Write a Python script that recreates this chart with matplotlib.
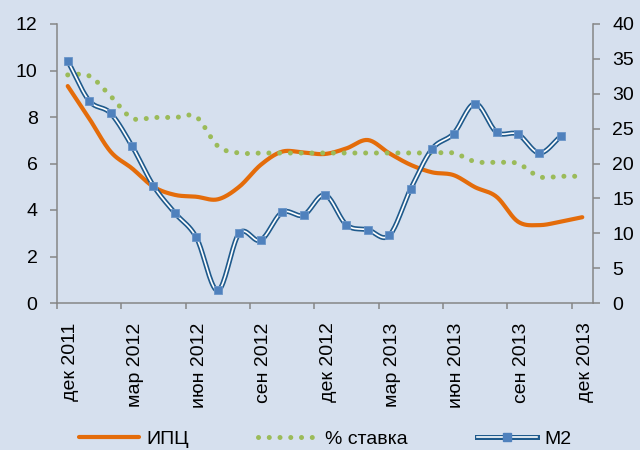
import numpy as np
import matplotlib
matplotlib.use("Agg")
import matplotlib.pyplot as plt
from matplotlib.lines import Line2D

plt.rcParams['font.family'] = ['Liberation Sans', 'DejaVu Sans']

# monthly values, dec 2011 .. dec 2013
tick_labels = ['дек 2011', 'мар 2012', 'июн 2012', 'сен 2012', 'дек 2012',
               'мар 2013', 'июн 2013', 'сен 2013', 'дек 2013']
cpi = [9.33, 7.94, 6.51, 5.79, 5.0, 4.65, 4.57, 4.46, 5.0, 5.94, 6.51, 6.47,
       6.41, 6.65, 7.01, 6.44, 5.94, 5.62, 5.5, 4.98, 4.57, 3.5, 3.35, 3.5, 3.69]
rate = [9.81, 9.77, 8.9, 7.95, 7.98, 7.98, 8.0, 6.75, 6.45, 6.45, 6.45, 6.45,
        6.45, 6.45, 6.45, 6.45, 6.45, 6.45, 6.45, 6.08, 6.05, 6.0, 5.43, 5.45, 5.45]
m2 = [34.7, 29.0, 27.2, 22.5, 16.8, 12.9, 9.4, 1.8, 10.0, 9.0, 13.0, 12.6,
      15.5, 11.2, 10.5, 9.7, 16.4, 22.1, 24.3, 28.6, 24.5, 24.2, 21.5, 23.9]

bg = '#D6E0EE'
grey = '#868686'
orange = '#E46C0A'
green = '#9BBB59'
navy = '#1F5A8C'
blue = '#4F81BD'
fs = 14


def smooth(x, y, n=20):
    # Catmull-Rom curve through the points, like Excel's smoothed line
    x = np.asarray(x, float)
    y = np.asarray(y, float)
    px = np.concatenate([[2 * x[0] - x[1]], x, [2 * x[-1] - x[-2]]])
    py = np.concatenate([[2 * y[0] - y[1]], y, [2 * y[-1] - y[-2]]])
    t = np.linspace(0, 1, n, endpoint=False)
    xs, ys = [], []
    for i in range(1, len(x)):
        for p, out in ((px, xs), (py, ys)):
            p0, p1, p2, p3 = p[i - 1], p[i], p[i + 1], p[i + 2]
            out.extend(0.5 * (2 * p1 + (-p0 + p2) * t
                              + (2 * p0 - 5 * p1 + 4 * p2 - p3) * t ** 2
                              + (-p0 + 3 * p1 - 3 * p2 + p3) * t ** 3))
    xs.append(x[-1])
    ys.append(y[-1])
    return np.array(xs), np.array(ys)


fig = plt.figure(figsize=(6.4, 4.5), dpi=100, facecolor=bg)
ax = fig.add_axes([57 / 640, 1 - 303 / 450, 536 / 640, 279 / 450])
ax.set_facecolor(bg)
ax2 = ax.twinx()

x_cpi = np.arange(len(cpi)) + 0.5
x_rate = np.arange(len(rate)) + 0.5
x_m2 = np.arange(len(m2)) + 0.5

sx, sy = smooth(x_cpi, cpi)
ax.plot(sx, sy, color=orange, lw=3, solid_capstyle='round')
sx, sy = smooth(x_rate, rate)
ax.plot(sx, sy, color=green, lw=3.6, linestyle=(0, (0.01, 2.14)),
        dash_capstyle='round')

sx, sy = smooth(x_m2, m2)
ax2.plot(sx, sy, color=navy, lw=3.6)
ax2.plot(sx, sy, color='white', lw=1.2)
ax2.plot(x_m2, m2, linestyle='none', marker='s', markersize=5.5,
         color=blue, markeredgecolor='#6A95C9', markeredgewidth=0.6)

ax.set_xlim(0, 25)
ax.set_ylim(0, 12)
ax2.set_ylim(0, 40)
ax.set_yticks(range(0, 13, 2))
ax2.set_yticks(range(0, 41, 5))
ax.set_xticks(np.arange(0, 25, 3) + 0.65, tick_labels, rotation=90,
              va='top', ha='center')
ax.set_xticks(np.arange(0, 25, 3), minor=True)

for a in (ax, ax2):
    a.spines['top'].set_visible(False)
    for s in a.spines.values():
        s.set_color(grey)
        s.set_linewidth(1.1)
ax.spines['right'].set_visible(False)
ax2.spines['left'].set_visible(False)
ax2.spines['bottom'].set_visible(False)

ax.tick_params(axis='y', direction='out', length=5, width=1.1, color=grey,
               labelsize=fs, pad=9)
ax2.tick_params(axis='y', direction='out', length=5, width=1.1, color=grey,
                labelsize=fs, pad=9)
ax.tick_params(axis='x', which='major', length=0, labelsize=fs, pad=14)
ax.tick_params(axis='x', which='minor', direction='out', length=4, width=1.1,
               color=grey)

h_cpi = Line2D([], [], color=orange, lw=3, solid_capstyle='round')
h_rate = Line2D([], [], color=green, lw=3.6, linestyle=(0, (0.01, 2.14)),
                dash_capstyle='round')
h_m2 = (Line2D([], [], color=navy, lw=3.6),
        Line2D([], [], color='white', lw=1.2),
        Line2D([], [], linestyle='none', marker='s', markersize=5.5, color=blue))
fig.legend([h_cpi, h_rate, h_m2], ['ИПЦ', '% ставка', 'M2'],
           loc='center', bbox_to_anchor=(0.508, 0.024), ncol=3, frameon=False,
           fontsize=fs, handlelength=3.1, handletextpad=0.36,
           columnspacing=3.55, numpoints=1)

fig.savefig('out.png', dpi=100, facecolor=bg)
